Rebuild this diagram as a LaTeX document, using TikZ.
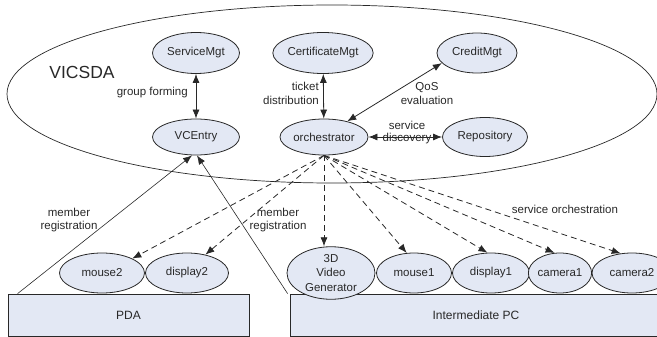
\documentclass[tikz,border=0pt]{standalone}
\usepackage{fontspec}
\setmainfont{Liberation Sans}
\usetikzlibrary{shapes.geometric,arrows.meta}
\definecolor{nodefill}{RGB}{227,232,244}
\definecolor{ink}{RGB}{40,40,40}
\tikzset{
  svc/.style={ellipse, draw=ink, line width=0.8pt, fill=nodefill, inner sep=0pt,
              minimum height=40pt, text=ink, font=\fontsize{11.5}{14}\selectfont},
  host/.style={rectangle, draw=ink, line width=0.8pt, fill=nodefill, inner sep=0pt,
               text=ink, font=\fontsize{12}{14}\selectfont},
  lbl/.style={text=ink, inner sep=0pt, font=\fontsize{11.5}{13.5}\selectfont, align=center},
  tip/.style={-{Latex[length=9pt,width=7pt]}},
  dtip/.style={{Latex[length=9pt,width=7pt]}-{Latex[length=9pt,width=7pt]}},
  conn/.style={draw=ink, line width=0.8pt},
  dconn/.style={draw=ink, line width=0.8pt, dash pattern=on 6pt off 4pt},
}
\begin{document}
\begin{tikzpicture}[x=1pt,y=-1pt]
\useasboundingbox (0,0) rectangle (657,337);
% big VICSDA ellipse
\node[ellipse, draw=ink, line width=0.7pt, minimum width=650pt, minimum height=178pt, inner sep=0pt] (vicsda) at (332,94) {};
\node[text=ink, inner sep=0pt, font=\fontsize{17.5}{20}\selectfont] (vlabel) at (82,72) {VICSDA};

% services inside
\node[svc, minimum width=87pt, minimum height=41pt] (sm) at (196,53) {ServiceMgt};
\node[svc, minimum width=89pt, minimum height=41pt] (cm) at (323,53) {CertificateMgt};
\node[svc, minimum width=80pt, minimum height=40pt] (cr) at (477,53) {CreditMgt};
\node[svc, minimum width=87pt, minimum height=36pt] (vc) at (196,137) {VCEntry};
\node[svc, minimum width=88pt, minimum height=36pt] (or) at (324,137) {orchestrator};
\node[svc, minimum width=85pt, minimum height=39pt] (rp) at (485,137) {Repository};

% hosts
\node[host, minimum width=241pt, minimum height=42pt] (pda) at (128.5,315) {PDA};
\node[host, minimum width=372pt, minimum height=42pt] (ipc) at (476,315) {Intermediate PC};

% devices
\node[svc, minimum width=85pt] (mouse2) at (102,273) {mouse2};
\node[svc, minimum width=83pt] (display2) at (187,273) {display2};
\node[svc, minimum width=88pt, align=center, font=\fontsize{11.5}{14.5}\selectfont] (gen) at (331,273) {3D\\Video\\Generator};
\node[svc, minimum width=75pt] (mouse1) at (414,273) {mouse1};
\node[svc, minimum width=77pt] (display1) at (491,273) {display1};
\node[svc, minimum width=54pt] (camera1) at (560,273) {camera1};
\node[svc, minimum width=80pt] (camera2) at (632,273) {camera2};

% inner connectors
\draw[conn, dtip] (sm) -- (vc);
\draw[conn, dtip] (cm) -- (or);
\draw[conn, dtip] (or.34) -- (cr.196);
\draw[conn, dtip] (or.east) -- (rp.west);

\node[lbl, anchor=east] (lgf) at (188,93) {group forming};
\node[lbl, anchor=east, align=right] (ltd) at (319,93.5) {ticket\\distribution};
\node[lbl] (lqos) at (427,93.5) {QoS\\evaluation};
\node[lbl, font=\fontsize{11.5}{12}\selectfont] (lsd) at (407,133) {service\\discovery};

% member registration
\draw[draw=ink, line width=0.6pt, tip] ([xshift=10pt]pda.north west) -- ([xshift=-4pt]vc.south);
\draw[draw=ink, line width=0.6pt, tip] ([xshift=-2pt]ipc.north west) -- ([xshift=1pt]vc.south);
\node[lbl] (lmr1) at (69,220) {member\\registration};
\node[lbl] (lmr2) at (278,220) {member\\registration};

% service orchestration
\draw[dconn, tip] (or.south) -- (mouse2.north east);
\draw[dconn, tip] (or.south) -- (display2.45);
\draw[dconn, tip] (or.south) -- (or.south |- gen.north);
\draw[dconn, tip] (or.south) -- (mouse1.110);
\draw[dconn, tip] (or.south) -- (display1.100);
\draw[dconn, tip] (or.south) -- (camera1.105);
\draw[dconn, tip] (or.south) -- (camera2.120);
\node[lbl] (lso) at (565,209) {service orchestration};
\end{tikzpicture}
\end{document}
